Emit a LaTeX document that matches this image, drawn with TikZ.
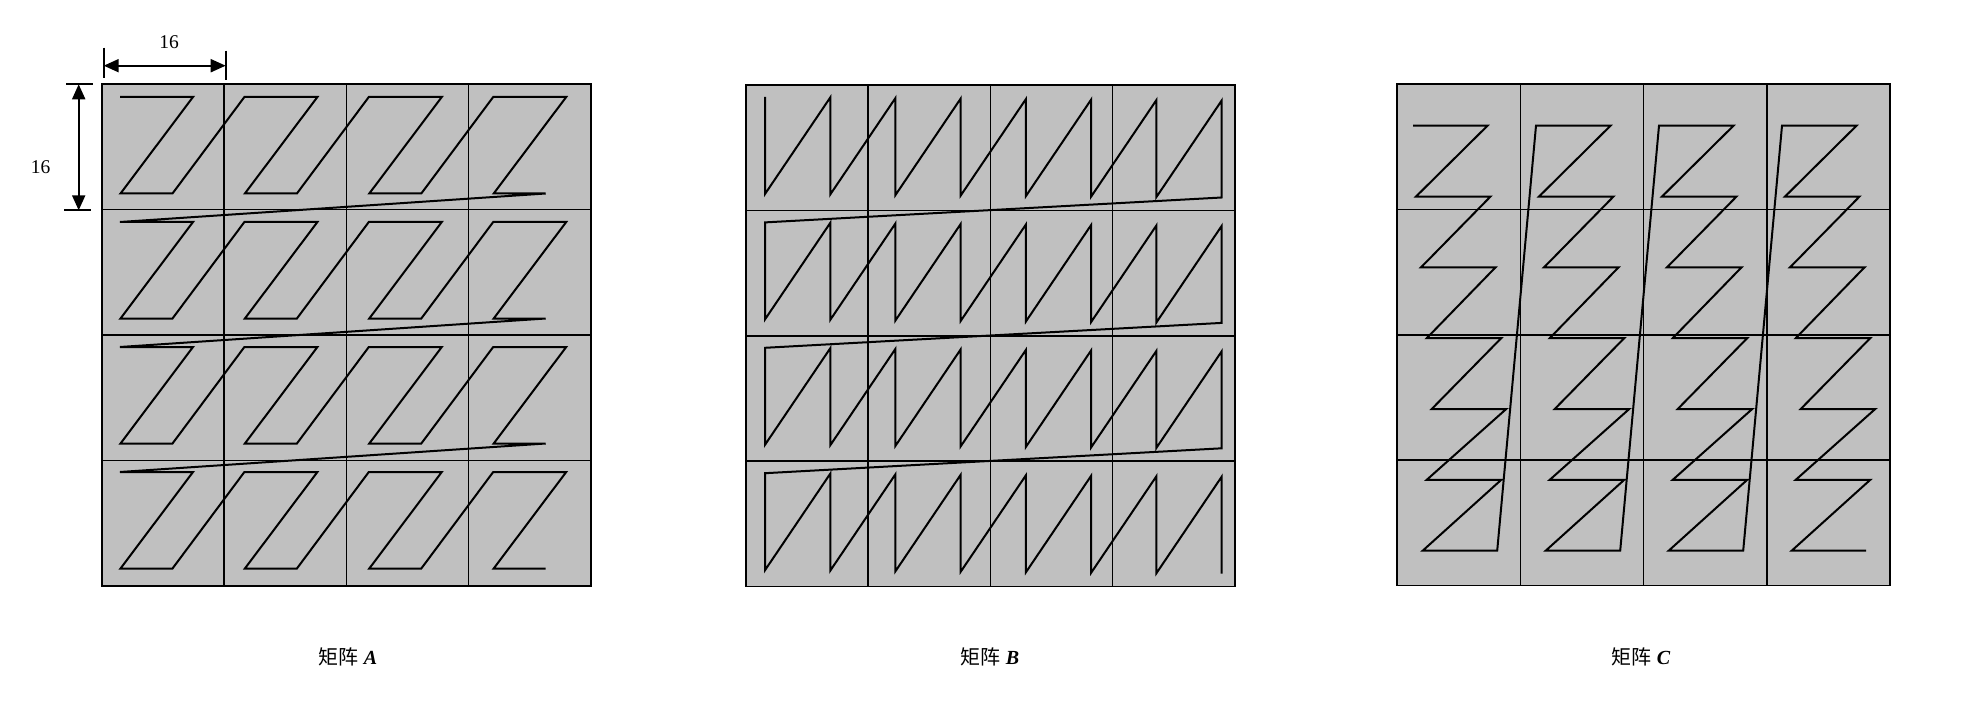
\documentclass[tikz,border=0pt]{standalone}
\usepackage{fontspec}
\setmainfont{Liberation Serif}
\newfontfamily\cjk{Noto Sans CJK SC}
\usetikzlibrary{arrows.meta}
\definecolor{cellgray}{HTML}{C0C0C0}

\begin{document}
\begin{tikzpicture}[
  x=1pt, y=-1pt,
  cell/.style={draw=black, fill=cellgray, line width=1.6pt},
  scan/.style={line width=2pt},
  extline/.style={line width=1.8pt},
  dimarrow/.style={{Triangle[length=15pt,width=13pt]}-{Triangle[length=15pt,width=13pt]}, line width=2pt},
  dimtext/.style={font=\fontsize{19.5}{20}\selectfont, inner sep=0pt},
  caption/.style={font=\fontsize{20}{22}\selectfont, anchor=base, inner sep=0pt},
]
\useasboundingbox (0,0) rectangle (1975,703);

% === Grids (4x4 blocks) ===
\foreach \gx/\gy/\gw in {102/84.3/122.2, 746/85/122.2, 1397/84/123.3}{
  \foreach \c in {0,...,3}{
    \foreach \r in {0,...,3}{
      \draw[cell] ({\gx+\gw*\c},{\gy+125.4*\r}) rectangle ++(\gw,125.4);
    }
  }
}

% === Matrix A: row by row ===
\draw[scan] (120,97)
  \foreach \i in {0,...,3}{
    \foreach \j in {0,...,3}{
      -- ({120+124.4*\j},{97+125*\i}) -- ({193+124.4*\j},{97+125*\i})
      -- ({120.5+124.4*\j},{193.5+125*\i}) -- ({172.5+124.4*\j},{193.5+125*\i})
    }
  };

% === Matrix B: column zigzag per row ===
\draw[scan] (765,97)
  \foreach \i in {0,...,3}{
    \foreach \k in {0,...,7}{
      -- ({765+65.24*\k},{97+125.4*\i+0.5*\k}) -- ({765+65.24*\k},{194+125.4*\i+0.5*\k})
    }
  };

% === Matrix C: column by column ===
\draw[scan] (1413,125.7)
  \foreach \j in {0,...,3}{
    \foreach \m/\d in {0/0, 1/3, 2/8, 3/13.7, 4/18.7, 5/13.7, 6/9.7}{
      -- ({1413+123*\j+\d},{125.7+70.83*\m}) -- ({1487.5+123*\j+\d},{125.7+70.83*\m})
    }
  };

% === Dimensions ===
\coordinate (wl) at (103.7,65.7);
\coordinate (wr) at (225.7,65.7);
\draw[extline] (103.7,47.7) -- (103.7,78);
\draw[extline] (225.7,50.7) -- (225.7,80);
\draw[dimarrow] (wl) -- (wr);
\node[dimtext] (wlabel) at (169,41.7) {16};

\coordinate (ht) at (78.7,84.3);
\coordinate (hb) at (78.7,210.3);
\draw[extline] (66,84.3) -- (92.7,84.3);
\draw[extline] (64,210.3) -- (90.7,210.3);
\draw[dimarrow] (ht) -- (hb);
\node[dimtext] (hlabel) at (40.7,166.7) {16};

% === Captions ===
\node[caption] (capA) at (348,664) {{\cjk 矩阵} \textbf{\textit{A}}};
\node[caption] (capB) at (990,664) {{\cjk 矩阵} \textbf{\textit{B}}};
\node[caption] (capC) at (1641,664) {{\cjk 矩阵} \textbf{\textit{C}}};

\end{tikzpicture}
\end{document}
